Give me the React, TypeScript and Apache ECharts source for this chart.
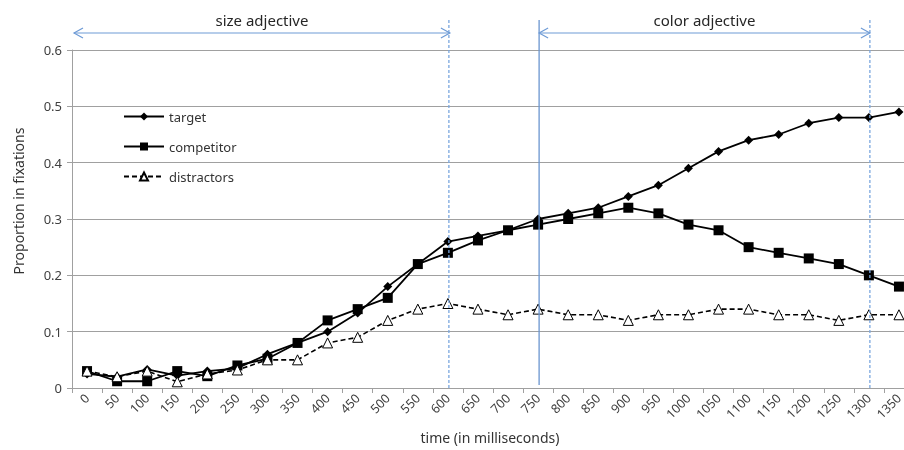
import React, { useEffect, useRef } from "react";
import * as echarts from "echarts";

const categories = ["0","50","100","150","200","250","300","350","400","450","500","550","600","650","700","750","800","850","900","950","1000","1050","1100","1150","1200","1250","1300","1350"];
const target = [0.025,0.02,0.033,0.022,0.03,0.035,0.06,0.08,0.1,0.133,0.18,0.22,0.26,0.27,0.28,0.3,0.31,0.32,0.34,0.36,0.39,0.42,0.44,0.45,0.47,0.48,0.48,0.49];
const competitor = [0.03,0.012,0.012,0.03,0.021,0.04,0.052,0.08,0.12,0.14,0.16,0.22,0.24,0.262,0.28,0.29,0.3,0.31,0.32,0.31,0.29,0.28,0.25,0.24,0.23,0.22,0.2,0.18];
const distractors = [0.03,0.02,0.03,0.011,0.025,0.032,0.05,0.05,0.08,0.09,0.12,0.14,0.15,0.14,0.13,0.14,0.13,0.13,0.12,0.13,0.13,0.14,0.14,0.13,0.13,0.12,0.13,0.13];
const yTicks = [0, 0.1, 0.2, 0.3, 0.4, 0.5, 0.6];
const sizeSpan = { label: "size adjective", from: "0", to: "600" };
const colorSpan = { label: "color adjective", from: "750", to: "1300" };

const FONT = "Noto Sans";
const BLUE = "#6e9bd6";

export default function App() {
  const ref = useRef<HTMLDivElement>(null);
  useEffect(() => {
    if (!ref.current) return;
    const chart = echarts.init(ref.current, null, { renderer: "svg" });
    chart.setOption({
      animation: false,
      textStyle: { fontFamily: FONT },
      grid: { left: 72, top: 50, bottom: 62, right: 0, containLabel: false },
      legend: {
        orient: "vertical",
        left: 123,
        top: 110,
        padding: 0,
        itemWidth: 40,
        itemHeight: 10,
        itemGap: 17,
        textStyle: { fontSize: 13, color: "#333", fontFamily: FONT },
        data: ["target", "competitor", "distractors"],
      },
      xAxis: {
        type: "category",
        data: categories,
        boundaryGap: true,
        axisLine: { lineStyle: { color: "#a0a0a0" } },
        axisTick: { show: true, length: 5, lineStyle: { color: "#a0a0a0" } },
        axisLabel: { rotate: 45, interval: 0, fontSize: 12.5, color: "#404040", margin: 8, fontFamily: FONT },
        name: "time (in milliseconds)",
        nameLocation: "middle",
        nameGap: 42,
        nameTextStyle: { fontSize: 14, color: "#333", fontFamily: FONT, padding: [0, 6, 0, 0] },
      },
      yAxis: {
        type: "value",
        min: yTicks[0],
        max: yTicks[yTicks.length - 1],
        interval: 0.1,
        axisLine: { show: true, lineStyle: { color: "#a0a0a0" } },
        axisTick: { show: true, length: 5, lineStyle: { color: "#a0a0a0" } },
        splitLine: { lineStyle: { color: "#a0a0a0" } },
        axisLabel: {
          fontSize: 13,
          color: "#404040",
          margin: 10,
          fontFamily: FONT,
          formatter: (v: number) => String(Math.round(v * 10) / 10),
        },
        name: "Proportion in fixations",
        nameLocation: "middle",
        nameGap: 47,
        nameTextStyle: { fontSize: 14, color: "#333", fontFamily: FONT, padding: [0, 0, 0, 36] },
      },
      series: [
        {
          name: "target",
          type: "line",
          data: target,
          symbol: "diamond",
          symbolSize: 9,
          itemStyle: { color: "#000" },
          lineStyle: { color: "#000", width: 1.8 },
        },
        {
          name: "competitor",
          type: "line",
          data: competitor,
          symbol: "rect",
          symbolSize: 10,
          itemStyle: { color: "#000" },
          lineStyle: { color: "#000", width: 1.8 },
        },
        {
          name: "distractors",
          type: "line",
          data: distractors,
          symbol: "triangle",
          symbolSize: 10,
          itemStyle: { color: "#fff", borderColor: "#000", borderWidth: 1 },
          lineStyle: { color: "#000", width: 1.6, type: [5, 3] },
        },
      ],
    });

    const px = (c: string) => chart.convertToPixel({ xAxisIndex: 0 }, c) as number;
    const py = (v: number) => chart.convertToPixel({ yAxisIndex: 0 }, v) as number;
    const band = px(categories[1]) - px(categories[0]);
    const yBase = py(0);
    const yTop = py(0.6) - 30;
    const yArrow = yTop + 13;

    const arrow = (x1: number, x2: number) => [
      { type: "line", shape: { x1, y1: yArrow, x2, y2: yArrow }, style: { stroke: BLUE, lineWidth: 1.2 } },
      { type: "polyline", shape: { points: [[x1 + 9, yArrow - 5], [x1, yArrow], [x1 + 9, yArrow + 5]] }, style: { stroke: BLUE, lineWidth: 1.2, fill: null } },
      { type: "polyline", shape: { points: [[x2 - 9, yArrow - 5], [x2, yArrow], [x2 - 9, yArrow + 5]] }, style: { stroke: BLUE, lineWidth: 1.2, fill: null } },
    ];

    const sFrom = px(sizeSpan.from) - band / 2 + 2;
    const sTo = px(sizeSpan.to) + 2;
    const cFrom = px(colorSpan.from) + 1;
    const cTo = px(colorSpan.to) + 1;

    chart.setOption({
      graphic: [
        { type: "line", shape: { x1: px(sizeSpan.to) + 1, y1: yTop, x2: px(sizeSpan.to) + 1, y2: yBase }, style: { stroke: "#7aa6de", lineWidth: 1.3, lineDash: [3, 2] }, z: 10 },
        { type: "line", shape: { x1: cTo, y1: yTop, x2: cTo, y2: yBase }, style: { stroke: "#7aa6de", lineWidth: 1.3, lineDash: [3, 2] }, z: 10 },
        { type: "line", shape: { x1: cFrom, y1: yTop, x2: cFrom, y2: yBase - 3 }, style: { stroke: "#6a95cf", lineWidth: 1.3 }, z: 10 },
        ...arrow(sFrom, sTo).map((g) => ({ ...g, z: 10 })),
        ...arrow(cFrom, cTo).map((g) => ({ ...g, z: 10 })),
        { type: "text", x: (sFrom + sTo) / 2, y: yTop, style: { text: sizeSpan.label, font: `15px "${FONT}"`, fill: "#262626", align: "center", verticalAlign: "middle" }, z: 10 },
        { type: "text", x: (cFrom + cTo) / 2, y: yTop, style: { text: colorSpan.label, font: `15px "${FONT}"`, fill: "#262626", align: "center", verticalAlign: "middle" }, z: 10 },
      ],
    });

    return () => chart.dispose();
  }, []);
  return (
    <div style={{ position: "fixed", left: 0, top: 0, width: 904, height: 450, overflow: "hidden" }}>
      <div ref={ref} style={{ width: 914, height: 450 }} />
    </div>
  );
}
